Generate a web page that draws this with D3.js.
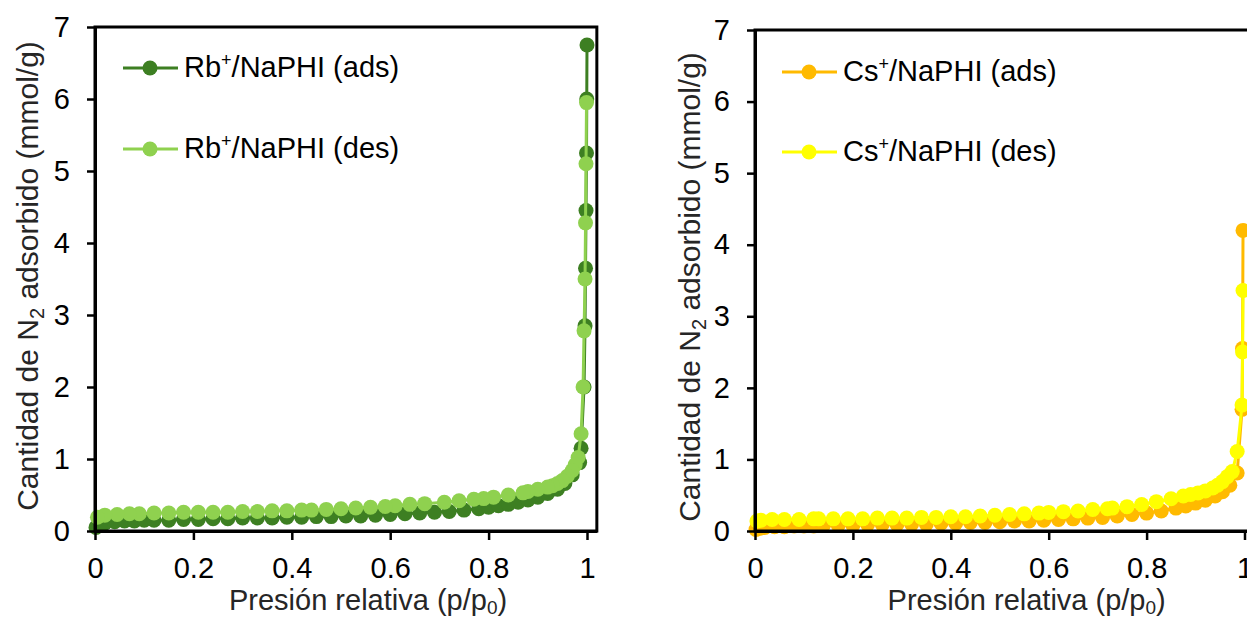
<!DOCTYPE html>
<html>
<head>
<meta charset="utf-8">
<script src="https://cdn.jsdelivr.net/npm/d3@7"></script>
<style>
  body { margin: 0; background: #fff; }
  svg { display: block; font-family: "Liberation Sans", Arial, sans-serif; }
</style>
</head>
<body>
<svg id="chart" width="1247" height="617"></svg>
<script>
// relative pressure / adsorbed amount
const rbAdsP = [0.002, 0.01, 0.02, 0.04, 0.06, 0.08, 0.10, 0.12, 0.15, 0.18, 0.21, 0.24, 0.27, 0.30, 0.33, 0.36, 0.39, 0.42, 0.45, 0.48, 0.51, 0.54, 0.57, 0.60, 0.63, 0.66, 0.69, 0.72, 0.75, 0.78, 0.80, 0.82, 0.84, 0.86, 0.88, 0.90, 0.92, 0.94, 0.955, 0.97, 0.985, 0.988, 0.994, 0.996, 0.997, 0.998, 0.999, 0.9995, 1.0];
const rbAdsV = [0.05, 0.09, 0.11, 0.13, 0.14, 0.14, 0.15, 0.15, 0.15, 0.16, 0.16, 0.17, 0.17, 0.18, 0.18, 0.18, 0.19, 0.19, 0.20, 0.20, 0.21, 0.21, 0.22, 0.23, 0.24, 0.25, 0.26, 0.27, 0.29, 0.31, 0.33, 0.35, 0.37, 0.40, 0.43, 0.47, 0.52, 0.58, 0.66, 0.78, 0.95, 1.15, 2.0, 2.85, 3.65, 4.45, 5.25, 6.0, 6.75];
const rbDesP = [0.999, 0.998, 0.997, 0.996, 0.994, 0.992, 0.988, 0.982, 0.976, 0.97, 0.96, 0.95, 0.94, 0.93, 0.92, 0.90, 0.88, 0.87, 0.84, 0.81, 0.79, 0.77, 0.74, 0.71, 0.67, 0.64, 0.61, 0.59, 0.56, 0.53, 0.50, 0.47, 0.44, 0.42, 0.39, 0.36, 0.33, 0.30, 0.27, 0.24, 0.21, 0.18, 0.15, 0.12, 0.09, 0.07, 0.045, 0.02, 0.005];
const rbDesV = [5.95, 5.1, 4.28, 3.5, 2.78, 2.0, 1.35, 1.02, 0.92, 0.84, 0.76, 0.70, 0.66, 0.63, 0.61, 0.58, 0.55, 0.53, 0.50, 0.47, 0.45, 0.44, 0.42, 0.40, 0.38, 0.37, 0.35, 0.34, 0.33, 0.32, 0.31, 0.30, 0.29, 0.29, 0.28, 0.28, 0.27, 0.27, 0.26, 0.26, 0.26, 0.26, 0.25, 0.25, 0.24, 0.24, 0.23, 0.22, 0.19];

const csAdsP = [0.002, 0.01, 0.02, 0.04, 0.06, 0.08, 0.10, 0.12, 0.14, 0.17, 0.20, 0.23, 0.26, 0.29, 0.32, 0.35, 0.38, 0.41, 0.44, 0.47, 0.50, 0.53, 0.56, 0.59, 0.62, 0.65, 0.68, 0.71, 0.74, 0.77, 0.80, 0.83, 0.86, 0.88, 0.90, 0.92, 0.94, 0.955, 0.97, 0.985, 0.995, 0.996, 0.997];
const csAdsV = [0.02, 0.04, 0.05, 0.06, 0.06, 0.07, 0.07, 0.07, 0.08, 0.08, 0.08, 0.09, 0.09, 0.09, 0.10, 0.10, 0.11, 0.11, 0.12, 0.12, 0.13, 0.14, 0.14, 0.15, 0.16, 0.17, 0.18, 0.19, 0.21, 0.23, 0.25, 0.28, 0.32, 0.35, 0.39, 0.43, 0.49, 0.55, 0.64, 0.81, 1.7, 2.55, 4.2];
const csDesP = [0.997, 0.996, 0.995, 0.985, 0.975, 0.965, 0.955, 0.945, 0.935, 0.92, 0.905, 0.89, 0.875, 0.85, 0.82, 0.79, 0.76, 0.73, 0.72, 0.69, 0.66, 0.63, 0.60, 0.58, 0.55, 0.52, 0.49, 0.46, 0.43, 0.40, 0.37, 0.34, 0.31, 0.28, 0.25, 0.22, 0.19, 0.16, 0.13, 0.12, 0.09, 0.06, 0.035, 0.012, 0.004];
const csDesV = [3.36, 2.5, 1.76, 1.11, 0.83, 0.76, 0.69, 0.64, 0.60, 0.56, 0.53, 0.51, 0.49, 0.45, 0.41, 0.37, 0.34, 0.32, 0.31, 0.30, 0.28, 0.27, 0.26, 0.25, 0.24, 0.23, 0.22, 0.21, 0.20, 0.20, 0.19, 0.19, 0.18, 0.18, 0.18, 0.17, 0.17, 0.17, 0.17, 0.17, 0.16, 0.16, 0.16, 0.15, 0.14];

const xTicks = [0, 0.2, 0.4, 0.6, 0.8, 1];
const yTicks = [0, 1, 2, 3, 4, 5, 6, 7];

const svg = d3.select("#chart");
const FS = 29;

function drawPanel(p) {
    const x = d3.scaleLinear().domain([0, 1.02]).range([p.left, p.left + p.unitX * 1.02]);
    const y = d3.scaleLinear().domain([0, 7]).range([p.bottom, p.top]);
    const g = svg.append("g");

    // series: ads first, des on top
    p.series.forEach(s => {
        const pts = s.px.map((v, i) => [v, s.py[i]]);
        g.append("path")
            .datum(pts)
            .attr("fill", "none")
            .attr("stroke", s.color)
            .attr("stroke-width", 3)
            .attr("stroke-linejoin", "round")
            .attr("d", d3.line().x(d => x(d[0])).y(d => y(d[1])));
        g.selectAll(null)
            .data(pts)
            .join("circle")
            .attr("cx", d => x(d[0]))
            .attr("cy", d => y(d[1]))
            .attr("r", 7.5)
            .attr("fill", s.color);
    });

    // frame
    g.append("rect")
        .attr("x", x(0)).attr("y", y(7))
        .attr("width", x(1.02) - x(0)).attr("height", y(0) - y(7))
        .attr("fill", "none").attr("stroke", "#000").attr("stroke-width", 3);

    const xAxis = g.append("g")
        .attr("transform", `translate(0,${y(0)})`)
        .call(d3.axisBottom(x).tickValues(xTicks).tickSize(9).tickSizeOuter(0).tickFormat(d3.format("~g")));
    xAxis.select(".domain").attr("stroke-width", 3);
    xAxis.selectAll(".tick line").attr("stroke-width", 2.5);
    xAxis.selectAll(".tick text").attr("font-size", FS).attr("fill", "#000")
        .attr("y", 47).attr("dy", 0);

    const yAxis = g.append("g")
        .attr("transform", `translate(${x(0)},0)`)
        .call(d3.axisLeft(y).tickValues(yTicks).tickSize(8).tickSizeOuter(0).tickFormat(d3.format("~g")));
    yAxis.select(".domain").attr("stroke-width", 3);
    yAxis.selectAll(".tick line").attr("stroke-width", 2.5);
    yAxis.selectAll(".tick text").attr("font-size", FS).attr("fill", "#000").attr("x", -25);
    xAxis.selectAll("path, line").attr("stroke", "#000");
    yAxis.selectAll("path, line").attr("stroke", "#000");

    // axis titles
    const xt = g.append("text")
        .attr("x", p.left + p.unitX * 0.555)
        .attr("y", 610)
        .attr("text-anchor", "middle")
        .attr("font-size", FS)
        .attr("fill", "#262626")
        .text("Presión relativa (p/p");
    xt.append("tspan").attr("font-size", 19).attr("dy", 4).text("0");
    xt.append("tspan").attr("dy", -4).text(")");

    const yt = g.append("text")
        .attr("transform", `translate(${p.yTitleX},${p.yTitleY}) rotate(-90)`)
        .attr("text-anchor", "middle")
        .attr("font-size", 30)
        .attr("fill", "#262626")
        .text("Cantidad de N");
    yt.append("tspan").attr("font-size", 20).attr("dy", 6).text("2");
    yt.append("tspan").attr("dy", -6).text(" adsorbido (mmol/g)");

    // legend
    p.series.forEach((s, i) => {
        const ly = p.legY[i];
        g.append("line")
            .attr("x1", p.legX).attr("x2", p.legX + 55)
            .attr("y1", ly).attr("y2", ly)
            .attr("stroke", s.color).attr("stroke-width", 3);
        g.append("circle")
            .attr("cx", p.legX + 27).attr("cy", ly).attr("r", 7.5)
            .attr("fill", s.color);
        const t = g.append("text")
            .attr("x", p.legX + 61).attr("y", ly + 9)
            .attr("font-size", FS).attr("fill", "#000")
            .text(p.ion);
        t.append("tspan").attr("font-size", 18).attr("dy", -11).text("+");
        t.append("tspan").attr("dy", 11).text(s.label);
    });
}

drawPanel({
    left: 95, unitX: 492, top: 27, bottom: 531,
    yTitleX: 38, yTitleY: 276,
    legX: 123, legY: [68, 149], ion: "Rb",
    series: [
        {px: rbAdsP, py: rbAdsV, color: "#3d7f22", label: "/NaPHI (ads)"},
        {px: rbDesP, py: rbDesV, color: "#8fd14f", label: "/NaPHI (des)"}
    ]
});

drawPanel({
    left: 755, unitX: 489.5, top: 30, bottom: 531,
    yTitleX: 700, yTitleY: 287,
    legX: 782, legY: [72, 152], ion: "Cs",
    series: [
        {px: csAdsP, py: csAdsV, color: "#ffba00", label: "/NaPHI (ads)"},
        {px: csDesP, py: csDesV, color: "#ffff00", label: "/NaPHI (des)"}
    ]
});
</script>
</body>
</html>
